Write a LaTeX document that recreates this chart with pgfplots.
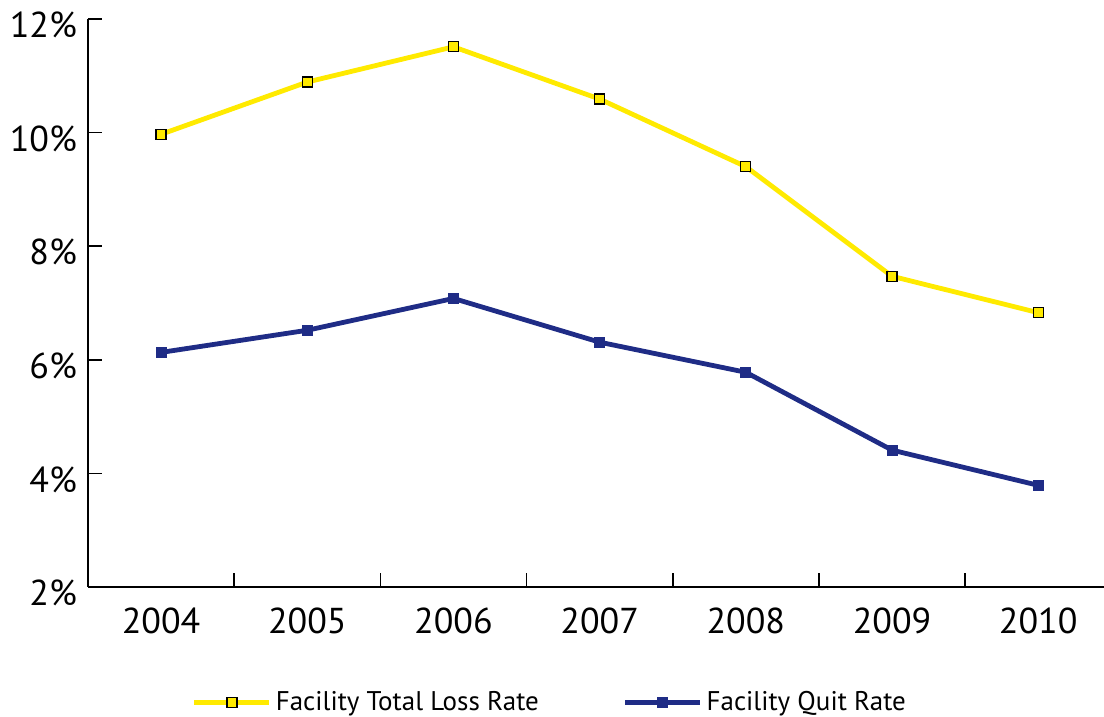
\documentclass[border=0pt]{standalone}
\usepackage{fontspec}
\setmainfont{PT Sans}
\usepackage{pgfplots}
\pgfplotsset{compat=1.18}

\definecolor{lossyellow}{RGB}{255,234,0}
\definecolor{quitblue}{RGB}{31,44,134}

\begin{document}
\begin{tikzpicture}
  % fixed frame: 1 px of the reference = 0.5pt
  \useasboundingbox (-44pt,-65pt) rectangle (508pt,293.5pt);
  \begin{axis}[
    at={(0pt,0pt)}, anchor=south west,
    scale only axis,
    width=508pt, height=284pt,
    xmin=-0.5, xmax=6.45,
    ymin=2, ymax=12,
    axis x line*=bottom,
    axis y line*=left,
    axis line style={line width=1pt, black, -},
    xtick={0,...,6},
    xticklabels={2004,2005,2006,2007,2008,2009,2010},
    minor xtick={0.5,1.5,...,5.5},
    ytick={2,4,...,12},
    yticklabels={2\%,4\%,6\%,8\%,10\%,12\%},
    tick align=inside,
    major tick length=7pt,
    minor tick length=7pt,
    x tick style={draw=none},
    minor x tick style={draw=black, line width=0.8pt},
    y tick style={draw=black, line width=0.8pt},
    tick label style={font=\fontsize{18}{18}\selectfont},
    xticklabel style={yshift=-7pt},
    yticklabel style={yshift=-3pt, xshift=-2pt},
    legend columns=2,
    legend style={
      at={(0.4557,-0.204)}, anchor=center,
      draw=none, fill=none,
      font=\fontsize{13.5}{13.5}\selectfont,
      /tikz/every even column/.append style={column sep=40pt},
    },
    legend image code/.code={
      \draw[#1, mark repeat=2, mark phase=2]
        plot coordinates {(0pt,0pt) (18.75pt,0pt) (37.5pt,0pt)};
    },
  ]
    \addplot[lossyellow, line width=2.4pt, mark=square*,
      mark size=2.5pt, mark options={fill=lossyellow, draw=black, line width=0.6pt}]
      coordinates {
        (0,9.97) (1,10.89) (2,11.51) (3,10.59) (4,9.40) (5,7.47) (6,6.83)
      };
    \addlegendentry{Facility Total Loss Rate}
    \addplot[quitblue, line width=2.4pt, mark=square*,
      mark size=2.5pt, mark options={fill=quitblue, draw=quitblue, line width=0pt}]
      coordinates {
        (0,6.13) (1,6.52) (2,7.08) (3,6.31) (4,5.78) (5,4.41) (6,3.79)
      };
    \addlegendentry{Facility Quit Rate}
  \end{axis}
\end{tikzpicture}
\end{document}
